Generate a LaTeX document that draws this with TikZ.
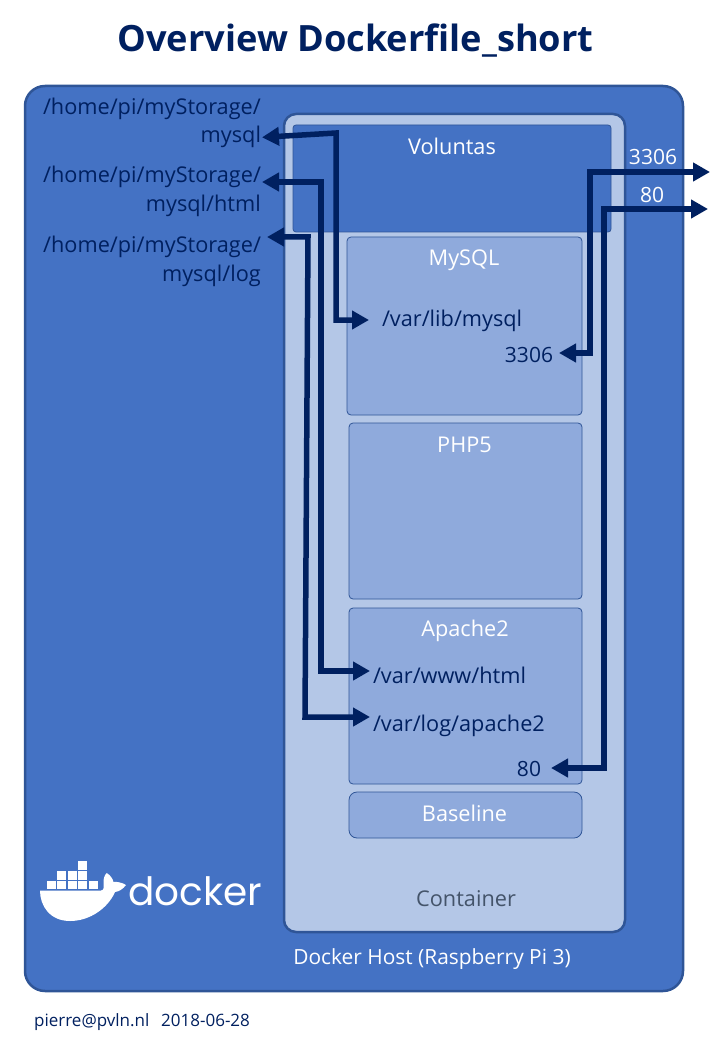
\documentclass[tikz,border=0pt]{standalone}
\usepackage{fontspec}
\setmainfont{Open Sans}
\newfontfamily\logofont{Poppins}
\usetikzlibrary{arrows.meta}
\definecolor{navy}{HTML}{002060}
\definecolor{hostblue}{HTML}{4472C4}
\definecolor{edgeblue}{HTML}{2F5597}
\definecolor{paleblue}{HTML}{B4C7E7}
\definecolor{midblue}{HTML}{8FAADC}
\definecolor{slate}{HTML}{44546A}
\tikzset{
  panel/.style={draw=edgeblue,anchor=center,inner sep=0pt,outer sep=0pt},
  hostbox/.style={panel,fill=hostblue,line width=2.5pt,rounded corners=20pt},
  containerbox/.style={panel,fill=paleblue,line width=2.5pt,rounded corners=12pt},
  layerbox/.style={panel,fill=midblue,line width=0.8pt,rounded corners=4pt},
  volbox/.style={panel,fill=hostblue,line width=0.8pt,rounded corners=3pt},
  txt/.style={inner sep=0pt,font=\fontsize{21.7pt}{26pt}\selectfont},
  wtxt/.style={txt,text=white},
  dtxt/.style={txt,text=navy},
  numtxt/.style={inner sep=0pt,font=\fontsize{21pt}{26pt}\selectfont},
  conntwo/.style={draw=navy,line width=5.5pt,line join=miter,
    {Triangle[length=17pt,width=18pt]}-{Triangle[length=17pt,width=18pt]}},
  block/.style={fill=white}
}
\begin{document}
\begin{tikzpicture}[x=1pt,y=-1pt]
\useasboundingbox (0,0) rectangle (720,1040);
\fill[white] (0,0) rectangle (720,1040);
% title
\node[anchor=base,inner sep=0pt,text=navy,font=\fontsize{36.2pt}{40pt}\selectfont\bfseries] (title) at (355.5,52) {Overview Dockerfile\_short};
% boxes
\node[hostbox,minimum width=658pt,minimum height=905pt] (host) at (354,538.5) {};
\node[containerbox,minimum width=341pt,minimum height=818pt] (container) at (454.5,523) {};
\node[volbox,minimum width=318pt,minimum height=107pt] (vol) at (452,178.5) {};
\node[layerbox,minimum width=235pt,minimum height=178pt] (mysqlbox) at (464.5,326) {};
\node[layerbox,minimum width=233pt,minimum height=176pt] (phpbox) at (465.5,511) {};
\node[layerbox,minimum width=233pt,minimum height=176pt] (apachebox) at (465.5,696) {};
\node[layerbox,rounded corners=8pt,minimum width=233pt,minimum height=46pt] (basebox) at (465.5,815) {};
% texts in the boxes
\node[wtxt,anchor=base] (volt) at (452,154.5) {Voluntas};
\node[wtxt,anchor=base] (mysqlt) at (464,266) {MySQL};
\node[wtxt,anchor=base] (phpt) at (464.5,452) {PHP5};
\node[wtxt,anchor=base] (apachet) at (465,636) {Apache2};
\node[wtxt,anchor=base] (baset) at (464.5,821) {Baseline};
\node[txt,anchor=base,text=slate] (contt) at (466,906) {Container};
\node[inner sep=0pt,font=\fontsize{20.9pt}{26pt}\selectfont,text=white,anchor=base] (hostt) at (432,964) {Docker Host (Raspberry Pi 3)};
% paths in the host
\node[dtxt,anchor=base east] (h1a) at (261,115) {/home/pi/myStorage/};
\node[dtxt,anchor=base east,outer xsep=1pt] (h1b) at (262,143) {mysql};
\node[dtxt,anchor=base east,outer xsep=1pt] (h2a) at (262,183) {/home/pi/myStorage/};
\node[dtxt,anchor=base east] (h2b) at (261,212) {mysql/html};
\node[dtxt,anchor=base east,outer xsep=6pt] (h3a) at (267,253) {/home/pi/myStorage/};
\node[dtxt,anchor=base east] (h3b) at (261,282) {mysql/log};
% paths in the container
\node[dtxt,anchor=base west,outer xsep=13pt] (vlib) at (369,326) {/var/lib/mysql};
\node[numtxt,text=navy,anchor=base east,outer xsep=6pt] (p3306) at (559,362) {3306};
\node[dtxt,anchor=base west,outer xsep=3pt] (vwww) at (370,683) {/var/www/html};
\node[dtxt,anchor=base west,outer xsep=3pt] (vlog) at (370,731) {/var/log/apache2};
\node[numtxt,text=navy,anchor=base east,outer xsep=10pt] (p80) at (551,776) {80};
% exposed ports
\node[numtxt,text=white,anchor=base] (o3306) at (653,165) {3306};
\node[numtxt,text=white,anchor=base] (o80) at (652,203) {80};
% bends and free ends
\coordinate (c1a) at (336,133);
\coordinate (c1b) at (336,320);
\coordinate (c2a) at (321,182);
\coordinate (c2b) at (321,671);
\coordinate (c3a) at (308,237);
\coordinate (c3b) at (305,717);
\coordinate (c4a) at (590,172);
\coordinate (c4b) at (590,353);
\coordinate (c5a) at (604,209);
\coordinate (c5b) at (604,768);
\coordinate (out3306) at (710,172);
\coordinate (out80) at (708,209);
% connectors
\draw[conntwo] (h1b.east) -- (c1a) -- (c1b) -- (vlib.west |- c1b);
\draw[conntwo] (h2a.east |- c2a) -- (c2a) -- (c2b) -- (vwww.west |- c2b);
\draw[conntwo] (h3a.east |- c3a) -- (c3a) -- (c3b) -- (vlog.west |- c3b);
\draw[conntwo] (p3306.east |- c4b) -- (c4b) -- (c4a) -- (out3306);
\draw[conntwo] (p80.east |- c5b) -- (c5b) -- (c5a) -- (out80);
% docker logo
\fill[block] (78,861) rectangle (87.3,869.5);
\fill[block] (57,871) rectangle (66.3,879.5);
\fill[block] (67.7,871) rectangle (77,879.5);
\fill[block] (78,871) rectangle (87.3,879.5);
\fill[block] (46.7,881) rectangle (55.8,889);
\fill[block] (57,881) rectangle (66.3,889);
\fill[block] (67.7,881) rectangle (77,889);
\fill[block] (78,881) rectangle (87.3,889);
\fill[block] (88.7,881) rectangle (98,889);
\fill[white] (40,890.5) -- (101,890.5) .. controls (104,890.5) and (104,887) .. (103.5,883)
  .. controls (103.3,879) and (104.5,875) .. (106.7,873)
  .. controls (110,875) and (112.5,878) .. (113.5,882)
  .. controls (117,881.5) and (122,882.5) .. (126,885)
  .. controls (123,889) and (119,891.5) .. (115,892)
  .. controls (108,908) and (90,921) .. (70,921)
  .. controls (50,921) and (40,906) .. (40,890.5) -- cycle;
\node[anchor=base west,inner sep=0pt,text=white,font=\logofont\fontsize{39pt}{40pt}\selectfont] (docker) at (128,905) {docker};
% footer
\node[anchor=base west,inner sep=0pt,text=navy,font=\fontsize{17pt}{20pt}\selectfont] (mail) at (34,1026) {pierre@pvln.nl};
\node[anchor=base west,inner sep=0pt,text=navy,font=\fontsize{17pt}{20pt}\selectfont] (date) at (161,1026) {2018-06-28};
\end{tikzpicture}
\end{document}
